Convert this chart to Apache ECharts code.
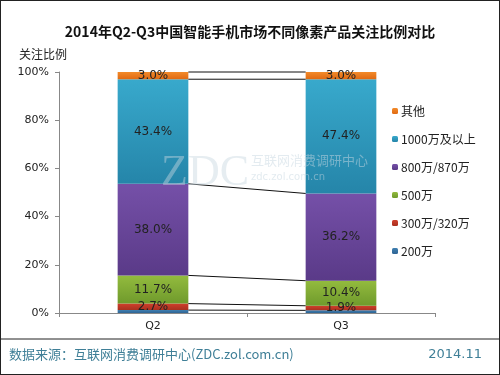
<!DOCTYPE html>
<html><head><meta charset="utf-8">
<script src="https://cdn.jsdelivr.net/npm/echarts@6/dist/echarts.min.js"></script>
<style>html,body{margin:0;padding:0;background:#fff}#c{width:500px;height:375px;box-sizing:border-box;border:1px solid #222}</style>
</head><body><div id="c"></div>
<script>
const categories = ['Q2', 'Q3'];
const seriesNames = ['200万', '300万/320万', '500万', '800万/870万', '1000万及以上', '其他'];
const v200 = [1.2, 1.1];
const v300 = [2.7, 1.9];
const v500 = [11.7, 10.4];
const v800 = [38.0, 36.2];
const v1000 = [43.4, 47.4];
const vOther = [3.0, 3.0];
const yTicks = [0, 20, 40, 60, 80, 100];

const values = [v200, v300, v500, v800, v1000, vOther];
const colors = [
  ['#3f7fb0', '#2f6494'],
  ['#cf3f2c', '#a8301f'],
  ['#93bb3e', '#6f9a2c'],
  ['#7550a8', '#5a3a88'],
  ['#38a9cc', '#2585a9'],
  ['#f28a2a', '#e06a12']
];
const BAR_RATIO = 0.376;

// cumulative boundaries
const bounds = [];
for (let k = 0; k < values.length; k++) {
  const row = [k];
  for (let c = 0; c < categories.length; c++) {
    let s = 0;
    for (let j = 0; j <= k; j++) s += values[j][c];
    row.push(+s.toFixed(2));
  }
  bounds.push(row);
}

const chart = echarts.init(document.getElementById('c'));
const barSeries = seriesNames.map((n, i) => ({
  name: n, type: 'bar', stack: 'total', barWidth: (BAR_RATIO * 100) + '%',
  data: values[i],
  itemStyle: { color: new echarts.graphic.LinearGradient(0, 0, 0, 1, [
    { offset: 0, color: colors[i][0] }, { offset: 1, color: colors[i][1] }]) },
  label: { show: true, position: 'inside', formatter: p => (n === '200万') ? '' : p.value.toFixed(1) + '%',
    color: '#222', fontSize: 12, fontFamily: 'DejaVu Sans' },
  z: 2
}));

chart.setOption({
  animation: false,
  title: { text: '2014年Q2-Q3中国智能手机市场不同像素产品关注比例对比', left: 'center', top: 19,
    textStyle: { fontSize: 14, fontWeight: 'bold', color: '#111', fontFamily: 'Noto Sans CJK SC' } },
  legend: {
    orient: 'vertical', left: 386, top: 99, itemGap: 16, itemWidth: 6, itemHeight: 6,
    data: seriesNames.slice().reverse(),
    textStyle: { fontSize: 12, color: '#222', fontFamily: 'Noto Sans CJK SC', padding: [0, 0, 0, -2] }
  },
  grid: { left: 58, right: 64, top: 71, bottom: 61 },
  xAxis: {
    type: 'category', data: categories,
    axisLine: { lineStyle: { color: '#888' } },
    axisTick: { show: true, lineStyle: { color: '#888' }, length: 4 },
    axisLabel: { color: '#222', fontSize: 11, margin: 8, fontFamily: 'DejaVu Sans' }
  },
  yAxis: {
    type: 'value', min: 0, max: 100, interval: 20,
    name: '关注比例', nameLocation: 'end', nameGap: 12,
    nameTextStyle: { color: '#222', fontSize: 12, align: 'right', padding: [0, -8, 0, 0], fontFamily: 'Noto Sans CJK SC' },
    axisLine: { show: true, lineStyle: { color: '#888' } },
    axisTick: { show: true, lineStyle: { color: '#888' }, length: 4 },
    splitLine: { show: false },
    axisLabel: { color: '#222', fontSize: 11, margin: 10, fontFamily: 'DejaVu Sans',
      formatter: v => yTicks.indexOf(v) >= 0 ? v + '%' : '' }
  },
  graphic: [
    { type: 'line', shape: { x1: 0, y1: 338, x2: 500, y2: 338 }, style: { stroke: '#222', lineWidth: 1 } },
    { type: 'text', left: 8, top: 347, style: { text: '数据来源：互联网消费调研中心(ZDC.zol.com.cn)', fill: '#3f7f97', fontSize: 13, fontFamily: 'Noto Sans CJK SC' } },
    { type: 'text', right: 17, top: 347, style: { text: '2014.11', fill: '#3f7f97', fontSize: 13, fontFamily: 'DejaVu Sans' } },
    { type: 'text', left: 160, top: 150, z: 10, style: { text: 'ZDC', fill: 'rgba(200,215,225,0.45)', fontSize: 44, fontFamily: 'Liberation Serif' } },
    { type: 'text', left: 250, top: 153, z: 10, style: { text: '互联网消费调研中心', fill: 'rgba(200,215,225,0.5)', fontSize: 13, fontFamily: 'Noto Sans CJK SC' } },
    { type: 'text', left: 250, top: 171, z: 10, style: { text: 'zdc.zol.com.cn', fill: 'rgba(200,215,225,0.5)', fontSize: 10, fontFamily: 'DejaVu Sans' } }
  ],
  series: barSeries.concat([{
    type: 'custom', name: 'connectors', silent: true, z: 3,
    encode: { x: 1, y: 1 },
    data: bounds,
    renderItem: (params, api) => {
      const a = api.value(1), b = api.value(2);
      const p1 = api.coord([0, a]);
      const p2 = api.coord([1, b]);
      const hw = api.size([1, 0])[0] * BAR_RATIO / 2;
      return { type: 'line', shape: { x1: p1[0] + hw, y1: p1[1], x2: p2[0] - hw, y2: p2[1] },
        style: { stroke: '#111', lineWidth: 1 } };
    }
  }])
});
</script></body></html>
